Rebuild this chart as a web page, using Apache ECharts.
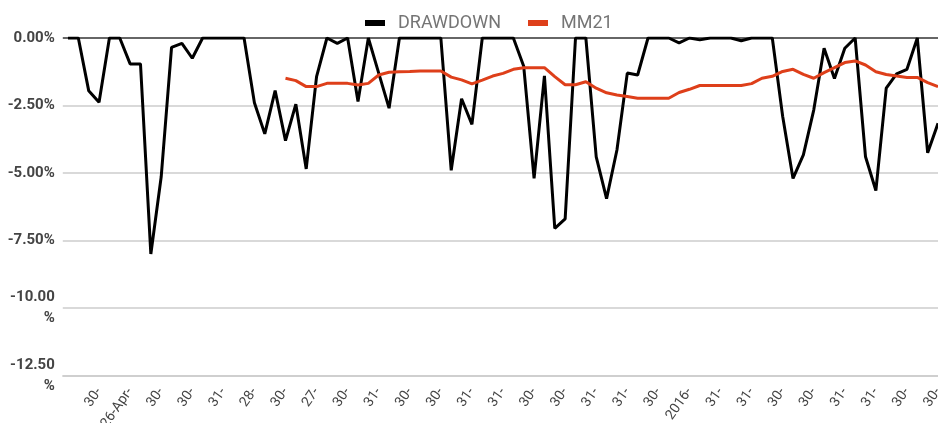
<!DOCTYPE html>
<html>
<head>
<meta charset="utf-8">
<script src="https://cdn.jsdelivr.net/npm/echarts@6/dist/echarts.min.js"></script>
<style>
  html, body { margin: 0; padding: 0; background: #fff; }
  #chart { width: 938px; height: 423px; }
</style>
</head>
<body>
<div id="chart"></div>
<script>
// labels shown under every third point (rest of each date is cut off)
const tickLabels = ['30-', '26-Apr-', '30-', '30-', '31-', '28-', '30-', '27-', '30-', '31-', '30-', '30-', '31-', '31-',
  '30-', '30-', '31-', '31-', '30-', '2016-', '31-', '31-', '30-', '30-', '31-', '31-', '30-', '30-'];

// drawdown in %
const drawdown = [
  0, 0, -1.95, -2.38, 0, 0, -0.96, -0.96, -8.0, -5.14,
  -0.35, -0.2, -0.75, 0, 0, 0, 0, 0, -2.4, -3.55,
  -1.95, -3.8, -2.45, -4.85, -1.43, 0, -0.2, 0, -2.35, 0,
  -1.3, -2.6, 0, 0, 0, 0, 0, -4.9, -2.25, -3.2,
  0, 0, 0, 0, -1.05, -5.2, -1.4, -7.05, -6.7, 0,
  0, -4.4, -5.95, -4.15, -1.3, -1.37, 0, 0, 0, -0.18,
  0, -0.07, 0, 0, 0, -0.1, 0, 0, 0, -2.9,
  -5.2, -4.33, -2.67, -0.38, -1.5, -0.38, 0, -4.4, -5.65, -1.86,
  -1.33, -1.16, 0, -4.25, -3.16
];

// 21-period moving average, starts at point 21
const mm21 = [
  null, null, null, null, null, null, null, null, null, null,
  null, null, null, null, null, null, null, null, null, null,
  null, -1.49, -1.58, -1.8, -1.8, -1.68, -1.68, -1.68, -1.74, -1.68,
  -1.37, -1.27, -1.25, -1.24, -1.22, -1.22, -1.22, -1.45, -1.55, -1.7,
  -1.56, -1.41, -1.31, -1.16, -1.1, -1.1, -1.1, -1.43, -1.73, -1.73,
  -1.62, -1.86, -2.03, -2.11, -2.17, -2.23, -2.23, -2.23, -2.23, -2.02,
  -1.9, -1.76, -1.76, -1.76, -1.76, -1.76, -1.69, -1.49, -1.42, -1.24,
  -1.16, -1.35, -1.49, -1.28, -1.1, -0.91, -0.85, -1.0, -1.25, -1.35,
  -1.41, -1.46, -1.46, -1.65, -1.8
];

const yTicks = [-12.5, -10, -7.5, -5, -2.5, 0];

// one category per point, label on every third one
const categories = drawdown.map(function (v, i) {
  return (i > 0 && i % 3 === 0) ? tickLabels[i / 3 - 1] : '';
});

const chart = echarts.init(document.getElementById('chart'));

const option = {
  animation: false,
  textStyle: { fontFamily: 'Roboto' },
  legend: {
    left: 360,
    top: 9,
    itemGap: 27,
    itemWidth: 20,
    itemHeight: 6,
    icon: 'rect',
    textStyle: { fontSize: 18, color: '#757575', padding: [0, 0, 0, 8] },
    data: ['DRAWDOWN', 'MM21']
  },
  grid: { left: 62.8, right: -5.2, top: 38, bottom: 47.5, containLabel: false, outerBoundsMode: 'none' },
  xAxis: {
    type: 'category',
    data: categories,
    boundaryGap: true,
    axisLine: { show: true, onZero: false, lineStyle: { color: '#cccccc', width: 1.5 } },
    axisTick: { show: false },
    axisLabel: {
      interval: 0,
      rotate: 55,
      margin: 14,
      fontSize: 14,
      color: '#444'
    },
    splitLine: { show: false }
  },
  yAxis: {
    type: 'value',
    min: yTicks[0],
    max: yTicks[yTicks.length - 1],
    interval: 2.5,
    axisLine: { show: false },
    axisTick: { show: false },
    axisLabel: {
      margin: 8,
      fontSize: 15,
      fontWeight: 'bold',
      color: '#444',
      lineHeight: 21,
      formatter: function (v) {
        const s = v.toFixed(2);
        return v <= -10 ? s + '\n%' : s + '%';
      }
    },
    splitLine: {
      lineStyle: { color: ['#cccccc', '#cccccc', '#cccccc', '#cccccc', '#cccccc', '#333333'], width: 1.5 }
    }
  },
  series: [
    {
      name: 'DRAWDOWN',
      type: 'line',
      data: drawdown,
      showSymbol: false,
      symbol: 'none',
      color: '#000000',
      lineStyle: { width: 3, color: '#000000' },
      z: 3
    },
    {
      name: 'MM21',
      type: 'line',
      data: mm21,
      showSymbol: false,
      symbol: 'none',
      color: '#de3f1a',
      lineStyle: { width: 3, color: '#de3f1a' },
      z: 4
    }
  ]
};

chart.setOption(option);
window.addEventListener('resize', function () {
  chart.resize();
});
</script>
</body>
</html>
